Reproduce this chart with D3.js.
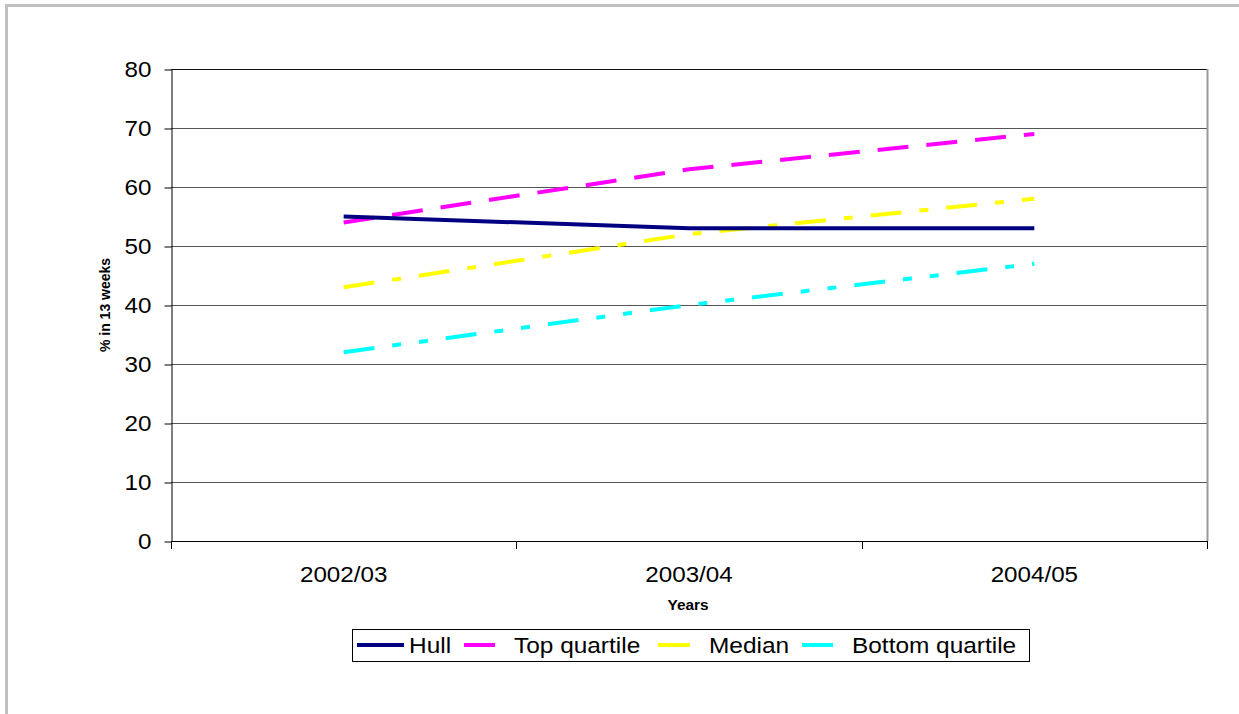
<!DOCTYPE html>
<html><head><meta charset="utf-8">
<script src="https://cdn.jsdelivr.net/npm/d3@7"></script>
<style>
body{margin:0;background:#fff;}
svg{display:block;font-family:"Liberation Sans",Arial,sans-serif;}
</style></head>
<body><svg id="c" width="1239" height="714"></svg>
<script>
const categories = ["2002/03","2003/04","2004/05"];
const hull = [55,53,53];
const topQuartile = [54,63,69];
const median = [43,52,58];
const bottomQuartile = [32,40,47];
const yTicks = [0,10,20,30,40,50,60,70,80];
const seriesNames = ["Hull","Top quartile","Median","Bottom quartile"];
const seriesColors = ["#000080","#FF00FF","#FFFF00","#00FFFF"];
const seriesDash = [null,"31,18","31,18,9,18","31,18,9,18,9,18"];
const seriesValues = [hull, topQuartile, median, bottomQuartile];

const SX = 1.1;
const svg = d3.select("#c");
// outer frame
svg.append("rect").attr("x",6.5).attr("y",5.5).attr("width",1260).attr("height",740)
  .attr("fill","none").attr("stroke","#c0c0c0").attr("stroke-width",3);

const L=171, R=1207, T=69, B=541;
const x = d3.scaleBand().domain(categories).range([L,R]);
const y = d3.scaleLinear().domain([0,80]).range([B,T]);

// gridlines
svg.append("g").selectAll("line").data(yTicks.filter(d=>d>0)).join("line")
  .attr("x1",L).attr("x2",R).attr("y1",d=>Math.round(y(d))+0.5).attr("y2",d=>Math.round(y(d))+0.5)
  .attr("stroke",d=>d===80?"#111":"#555").attr("stroke-width",1);
// right border
svg.append("line").attr("x1",R+0.5).attr("x2",R+0.5).attr("y1",T).attr("y2",B)
  .attr("stroke","#999").attr("stroke-width",2);

// y axis
const ya = svg.append("g").attr("transform",`translate(${L+0.5},0.5)`)
  .call(d3.axisLeft(y).tickValues(yTicks).tickSize(7).tickSizeOuter(0).tickPadding(13));
ya.select(".domain").attr("stroke","#000");
ya.selectAll(".tick line").attr("stroke","#000");
ya.selectAll(".tick text").attr("font-size",22).attr("fill","#000").attr("font-family","Liberation Sans, Arial, sans-serif")
  .attr("x",-20/SX).attr("transform",`scale(${SX},1)`);

// x axis
const xa = svg.append("g").attr("transform",`translate(0,${B+0.5})`)
  .call(d3.axisBottom(x).tickSize(0).tickPadding(20));
xa.select(".domain").attr("stroke","#000").attr("d",`M${L},0H${R}`);
xa.selectAll(".tick text").attr("font-size",22).attr("fill","#000").attr("font-family","Liberation Sans, Arial, sans-serif")
  .attr("dy","0.71em").attr("y",25).attr("x",0).attr("transform",`scale(${SX},1)`);
// category boundary ticks
const bounds = categories.map(c=>x(c)).concat([R]);
svg.append("g").selectAll("line").data(bounds).join("line")
  .attr("x1",d=>Math.round(d)+0.5).attr("x2",d=>Math.round(d)+0.5).attr("y1",B).attr("y2",B+8)
  .attr("stroke","#000");

// axis titles
svg.append("text").attr("transform",`translate(${688},${610}) scale(${SX},1)`)
  .attr("text-anchor","middle").attr("font-size",14).attr("font-weight","bold").text("Years");
svg.append("text").attr("transform",`translate(${110},${305}) rotate(-90)`)
  .attr("text-anchor","middle").attr("font-size",14).attr("font-weight","bold").text("% in 13 weeks");

// series
const line = d3.line().x((d,i)=>x(categories[i])+x.bandwidth()/2).y(d=>y(d));
[1,2,3,0].forEach(k=>{
  svg.append("path").datum(seriesValues[k]).attr("d",line)
    .attr("fill","none").attr("stroke",seriesColors[k]).attr("stroke-width",4)
    .attr("stroke-dasharray",seriesDash[k]);
});

// legend
const lg = svg.append("g");
lg.append("rect").attr("x",352.5).attr("y",629.5).attr("width",677).attr("height",32)
  .attr("fill","#fff").attr("stroke","#000").attr("stroke-width",1);
const items = [
  {x1:357,x2:404,tx:409},
  {x1:464,x2:495,tx:514},
  {x1:658,x2:690,tx:709},
  {x1:802,x2:833,tx:852}
];
items.forEach((it,k)=>{
  lg.append("line").attr("x1",it.x1).attr("x2",it.x2).attr("y1",645).attr("y2",645)
    .attr("stroke",seriesColors[k]).attr("stroke-width",4);
  lg.append("text").attr("transform",`translate(${it.tx},${653}) scale(1.11,1)`)
    .attr("font-size",22).attr("fill","#000").text(seriesNames[k]);
});
</script></body></html>
